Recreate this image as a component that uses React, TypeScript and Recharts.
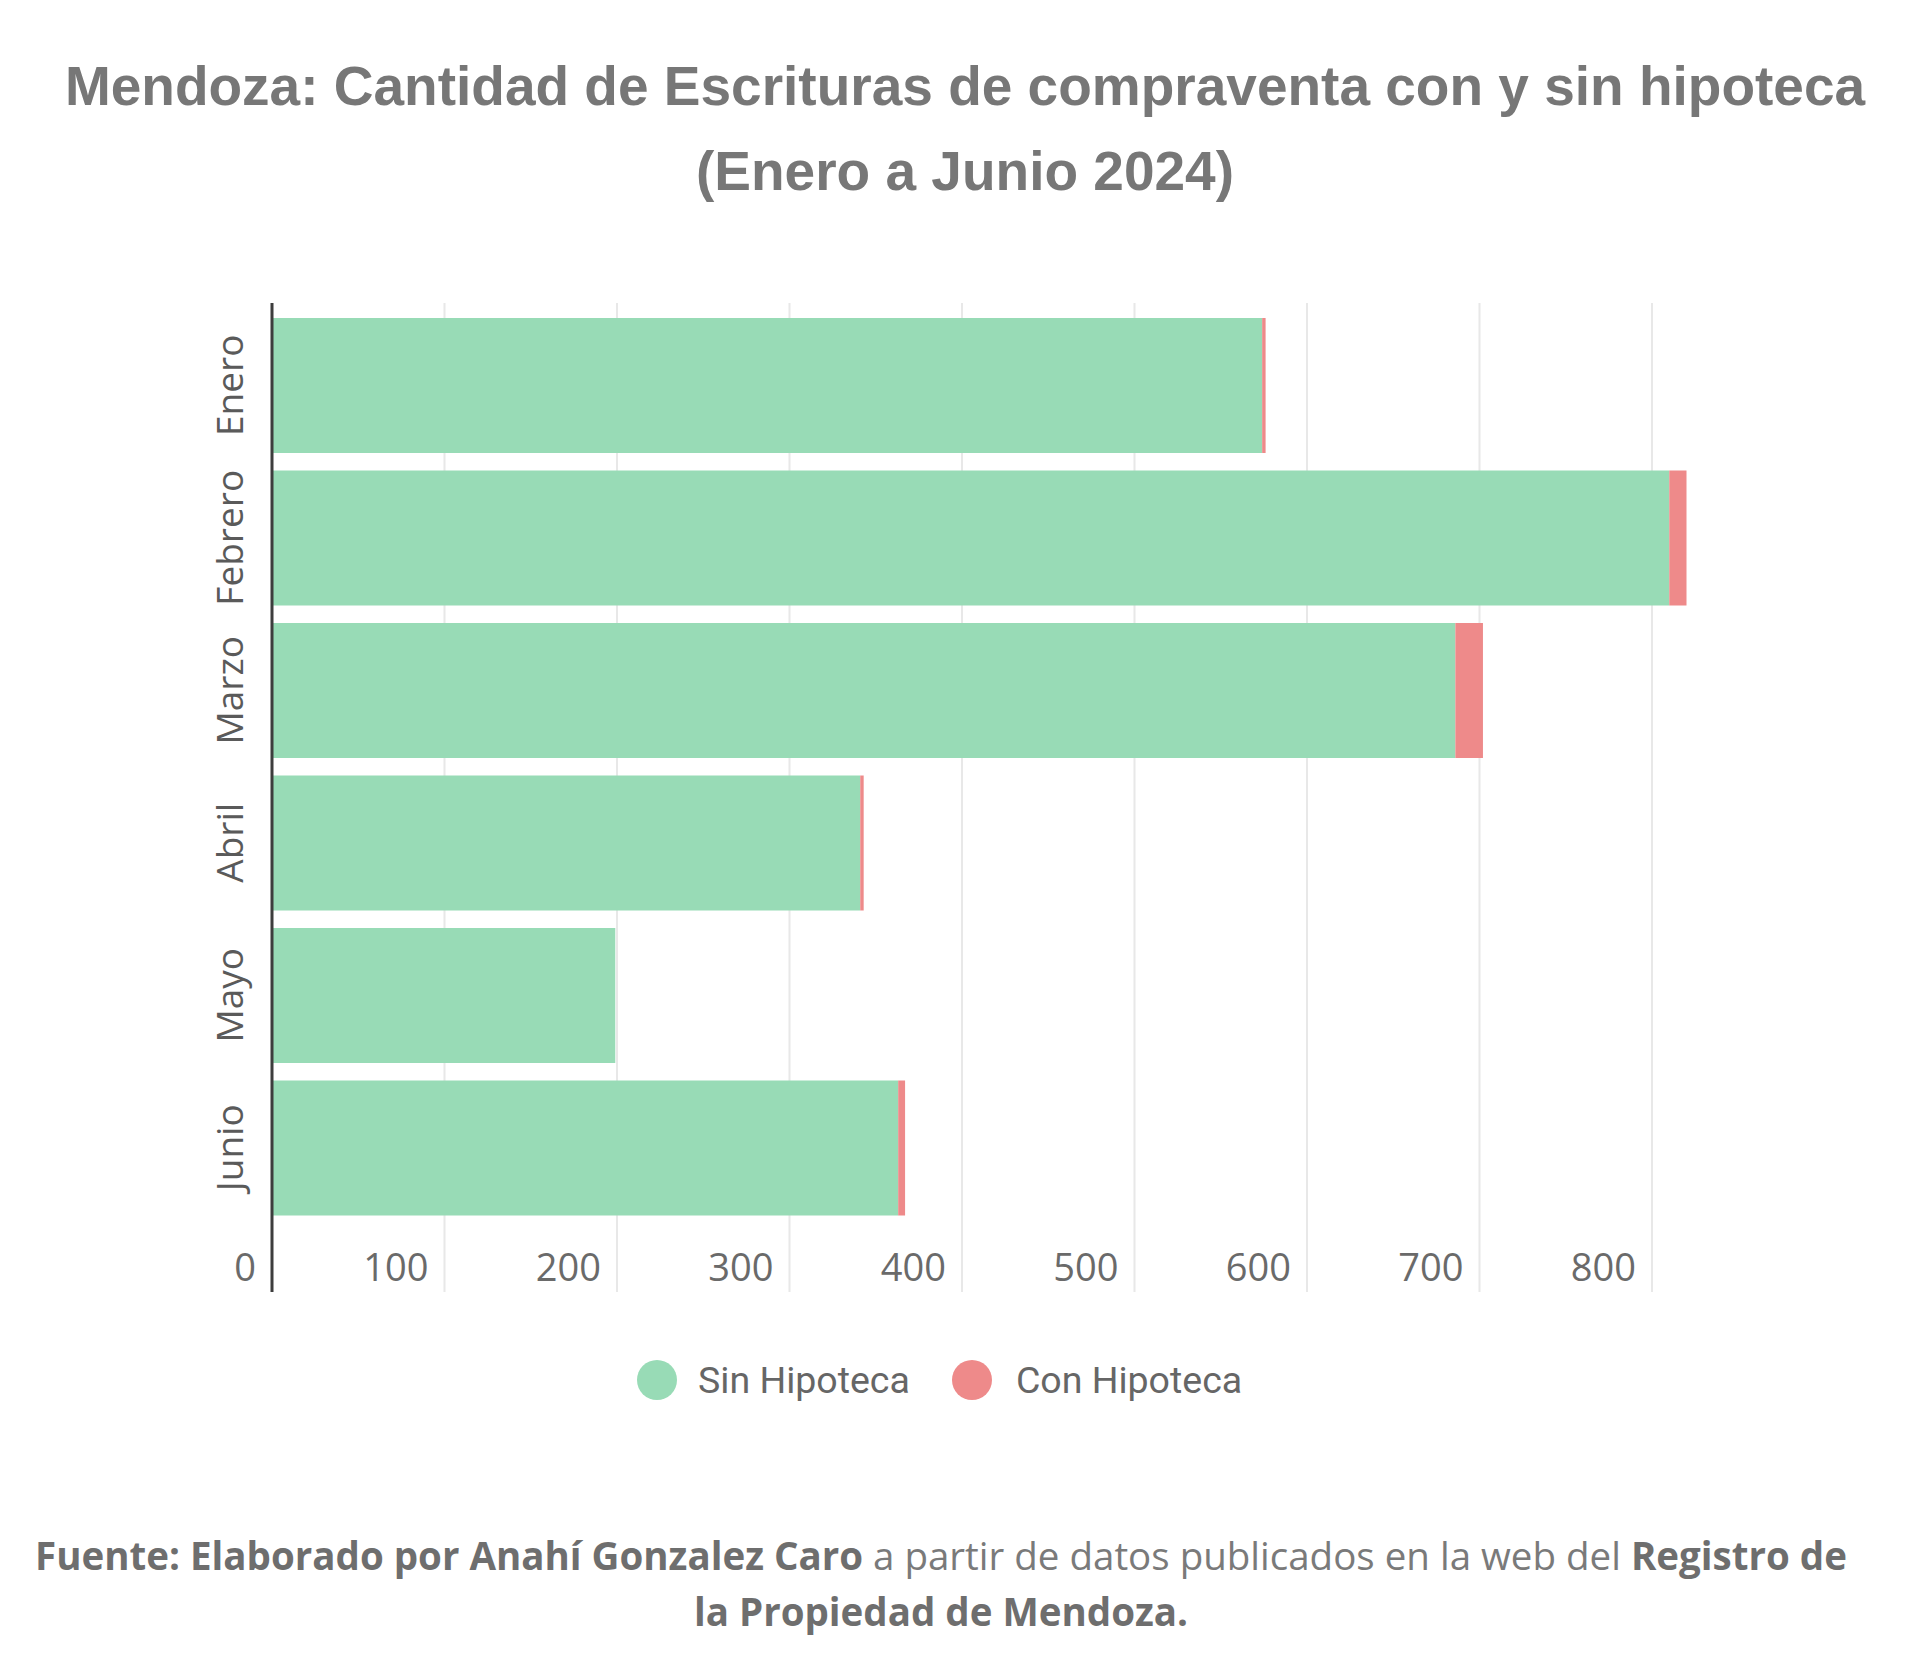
import { BarChart, Bar, XAxis, YAxis, CartesianGrid } from "recharts";

// Monthly deeds, Mendoza (Jan-Jun 2024)
const months = ["Enero", "Febrero", "Marzo", "Abril", "Mayo", "Junio"];
const sinHipoteca = [574, 810, 686, 341, 199, 363];
const conHipoteca = [2, 10, 16, 2, 0, 4];
const xTicks = [0, 100, 200, 300, 400, 500, 600, 700, 800];

const GREEN = "#98dbb6";
const RED = "#ee8a8a";
const PLOT_TOP = 303;
const PLOT_BOTTOM = 1292;
const CHART_H = 1300;

const data = months.map((mes, i) => ({
  mes,
  sin: sinHipoteca[i],
  con: conHipoteca[i],
}));

const XTick = (props: any) => {
  const { x, payload } = props;
  return (
    <text
      x={x - 16}
      y={PLOT_BOTTOM - 11}
      textAnchor="end"
      fontSize={38}
      fontFamily="'Open Sans', sans-serif"
      fill="#6a6a6a"
    >
      {payload.value}
    </text>
  );
};

const YTick = (props: any) => {
  const { y, payload } = props;
  return (
    <text
      transform={`translate(228, ${y}) rotate(-90)`}
      textAnchor="middle"
      dominantBaseline="central"
      fontSize={37}
      fontFamily="'Open Sans', sans-serif"
      fill="#5a5a5a"
    >
      {payload.value}
    </text>
  );
};

export default function App() {
  return (
    <div
      style={{
        position: "absolute",
        left: 0,
        top: 0,
        width: 1920,
        height: 1679,
        background: "#fff",
        overflow: "hidden",
      }}
    >
      <div style={{ position: "absolute", left: 0, top: 0 }}>
        <BarChart
          width={1920}
          height={CHART_H}
          data={data}
          layout="vertical"
          margin={{ top: PLOT_TOP, right: 199, bottom: CHART_H - PLOT_BOTTOM, left: 0 }}
          barCategoryGap={9}
        >
          <CartesianGrid horizontal={false} stroke="#e8e8e8" strokeWidth={2} syncWithTicks />
          <XAxis
            type="number"
            domain={[0, 840]}
            ticks={xTicks}
            interval={0}
            axisLine={false}
            tickLine={false}
            height={30}
            mirror
            tick={XTick}
          />
          <YAxis
            type="category"
            dataKey="mes"
            width={272}
            axisLine={{ stroke: "#3d3d3d", strokeWidth: 3 }}
            tickLine={false}
            tick={YTick}
            padding={{ top: 6, bottom: 68 }}
          />
          <Bar dataKey="sin" stackId="a" fill={GREEN} isAnimationActive={false} />
          <Bar dataKey="con" stackId="a" fill={RED} isAnimationActive={false} />
        </BarChart>
      </div>

      {/* title */}
      <div
        style={{
          position: "absolute",
          left: 0,
          top: 44,
          width: 1930,
          textAlign: "center",
          fontFamily: "'Liberation Sans', Arial, sans-serif",
          fontWeight: 700,
          fontSize: 55,
          lineHeight: "85px",
          color: "#777",
        }}
      >
        Mendoza: Cantidad de Escrituras de compraventa con y sin hipoteca
        <br />
        (Enero a Junio 2024)
      </div>

      {/* legend */}
      <div
        style={{
          position: "absolute",
          left: 637,
          top: 1355,
          height: 50,
          display: "flex",
          alignItems: "center",
          fontFamily: "Roboto, sans-serif",
          fontSize: 37.5,
          color: "#666",
        }}
      >
        <span style={{ width: 40, height: 40, borderRadius: 20, background: GREEN, display: "inline-block" }} />
        <span style={{ marginLeft: 21, marginRight: 42 }}>Sin Hipoteca</span>
        <span style={{ width: 40, height: 40, borderRadius: 20, background: RED, display: "inline-block" }} />
        <span style={{ marginLeft: 24 }}>Con Hipoteca</span>
      </div>

      {/* source */}
      <div
        style={{
          position: "absolute",
          left: 0,
          top: 1527,
          width: 1882,
          textAlign: "center",
          fontFamily: "'Open Sans', sans-serif",
          fontSize: 38.5,
          lineHeight: "56px",
          color: "#7a7a7a",
          whiteSpace: "nowrap",
        }}
      >
        <b style={{ color: "#6e6e6e" }}>Fuente: Elaborado por Anahí Gonzalez Caro</b> a partir de datos
        publicados en la web del <b style={{ color: "#6e6e6e" }}>Registro de</b>
        <br />
        <b style={{ color: "#6e6e6e" }}>la Propiedad de Mendoza.</b>
      </div>
    </div>
  );
}
